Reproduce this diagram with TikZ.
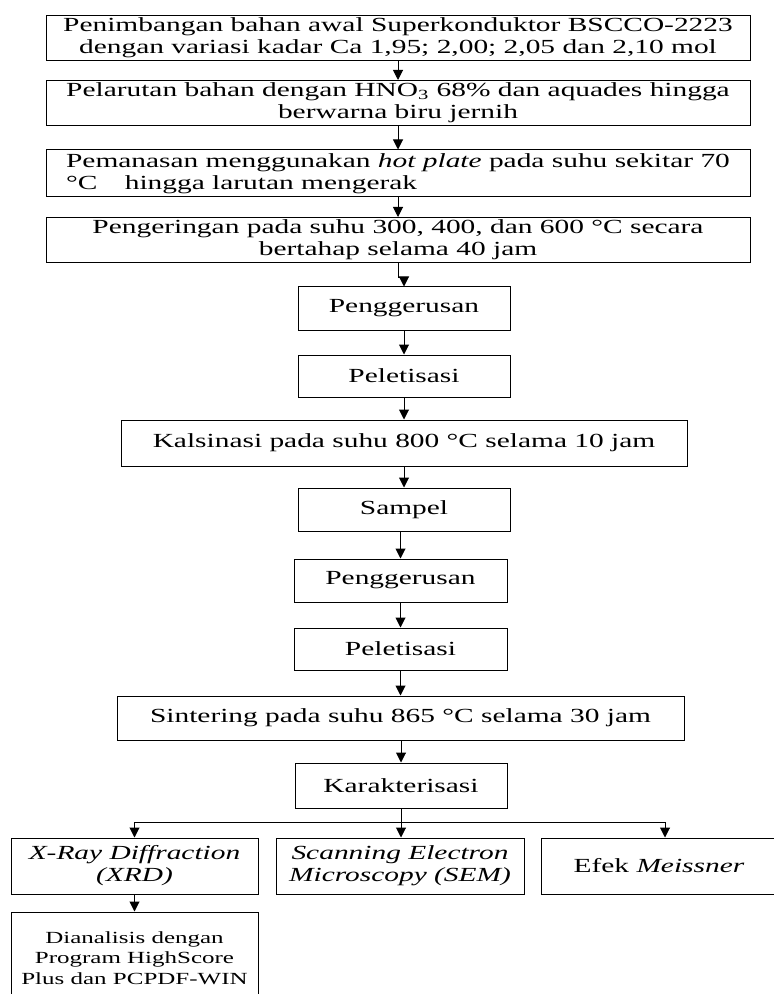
\documentclass[tikz,border=0pt]{standalone}
\usepackage{fontspec}
\setmainfont[FakeStretch=1.47]{Liberation Serif}
\usetikzlibrary{arrows.meta,calc}
\newcommand\mainsz{\fontsize{10}{11}\selectfont}
\newcommand\smallsz{\fontsize{8.5}{10.2}\selectfont}
\begin{document}
\begin{tikzpicture}[x=0.5pt,y=-0.5pt,
  box/.style={draw, line width=0.5pt, inner sep=0pt, align=center, font=\mainsz},
  arr/.style={-{Triangle[length=5pt,width=5pt]}, line width=0.5pt}]
\useasboundingbox (0,0) rectangle (774,994);
% top wide boxes
\node[box, minimum width=352pt, minimum height=22.5pt] (b1) at (398,38)
  {Penimbangan bahan awal Superkonduktor BSCCO-2223\\dengan variasi kadar Ca 1,95; 2,00; 2,05 dan 2,10 mol};
\node[box, minimum width=352pt, minimum height=22.5pt] (b2) at (398,103)
  {Pelarutan bahan dengan HNO\textsubscript{3} 68\% dan aquades hingga\\berwarna biru jernih};
\node[box, align=left, minimum width=352pt, minimum height=23.5pt] (b3) at (398,173.5)
  {Pemanasan menggunakan \textit{hot plate} pada suhu sekitar 70\\°C\quad\ hingga larutan mengerak};
\node[box, minimum width=352pt, minimum height=22.5pt] (b4) at (398,240)
  {Pengeringan pada suhu 300, 400, dan 600 °C secara\\bertahap selama 40 jam};
% middle chain
\node[box, minimum width=106pt, minimum height=21.5pt] (b5) at (404,308.5) {Penggerusan};
\node[box, minimum width=106pt, minimum height=21pt] (b6) at (404,376) {Peletisasi};
\node[box, minimum width=283pt, minimum height=23pt] (b7) at (404,443) {Kalsinasi pada suhu 800 °C selama 10 jam};
\node[box, minimum width=106pt, minimum height=21.5pt] (b8) at (404,509.5) {Sampel};
\node[box, minimum width=106.5pt, minimum height=21.5pt] (b9) at (400.5,580.5) {Penggerusan};
\node[box, minimum width=106.5pt, minimum height=21pt] (b10) at (400.5,649) {Peletisasi};
\node[box, minimum width=283.5pt, minimum height=22pt] (b11) at (400.5,718) {Sintering pada suhu 865 °C selama 30 jam};
\node[box, minimum width=106pt, minimum height=22.5pt] (b12) at (401,785.5) {Karakterisasi};
% bottom row
\node[box, minimum width=123.5pt, minimum height=28pt] (b13) at (134.5,866) {\textit{X-Ray Diffraction}\\\textit{(XRD)}};
\node[box, minimum width=124pt, minimum height=28pt] (b14) at (400,866) {\textit{Scanning Electron}\\\textit{Microscopy (SEM)}};
\node[box, minimum width=118pt, minimum height=28pt] (b15) at (659,866) {Efek \textit{Meissner}};
\node[box, font=\smallsz, minimum width=123.5pt, minimum height=46pt] (b16) at (134.5,958)
  {Dianalisis dengan\\Program HighScore\\Plus dan PCPDF-WIN};
% connectors
\draw[arr] (b1) -- (b2);
\draw[arr] (b2) -- (b3);
\draw[arr] (b3) -- (b4);
\draw[arr] (b4.south) -- ++(0,15) -| (b5.north);
\draw[arr] (b5) -- (b6);
\draw[arr] (b6) -- (b7);
\draw[arr] (b7) -- (b8);
\draw[arr] (b9.north |- b8.south) -- (b9.north);
\draw[arr] (b9) -- (b10);
\draw[arr] (b10) -- (b11);
\draw[arr] (b12.north |- b11.south) -- (b12.north);
\coordinate (jl) at (134.5,822);
\coordinate (jr) at (665,822);
\draw[arr] (b12.south) -- (b12.south |- b14.north);
\draw[arr] (jl) -| (b13.north);
\draw (jl) -- (jr);
\draw[arr] (jr) -- (jr |- b15.north);
\draw[arr] (b13) -- (b16);
\end{tikzpicture}
\end{document}
